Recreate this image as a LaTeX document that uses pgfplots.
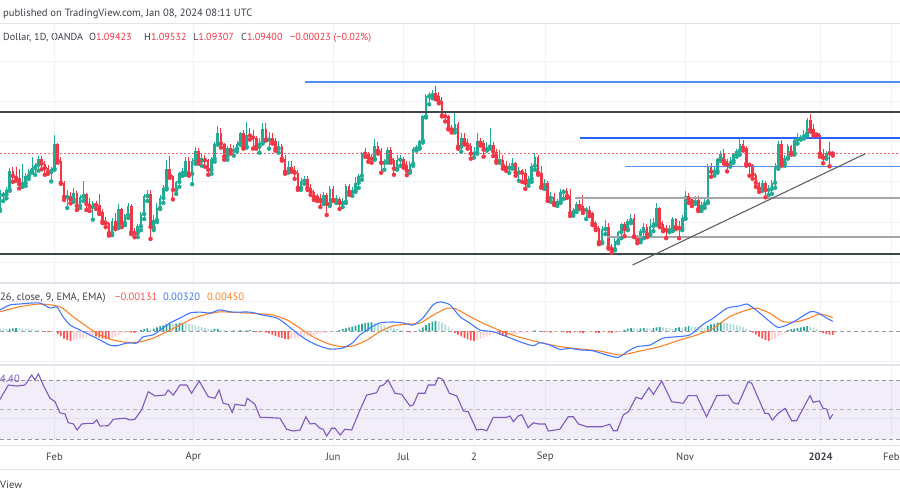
\documentclass[border=0pt]{standalone}
\usepackage{fontspec}
\setmainfont{PT Sans}
\usepackage{pgfplots}
\usepackage{pgfplotstable}
\pgfplotsset{compat=1.18}

\definecolor{upc}{RGB}{34,171,148}
\definecolor{dnc}{RGB}{242,54,69}
\definecolor{txtc}{RGB}{60,63,72}
\definecolor{gridc}{RGB}{240,242,247}
\definecolor{sepc}{RGB}{224,227,235}
\definecolor{bluel}{RGB}{41,98,255}
\definecolor{bluet}{RGB}{80,140,245}
\definecolor{blkl}{RGB}{62,72,74}
\definecolor{gryl}{RGB}{165,165,170}
\definecolor{trl}{RGB}{95,95,100}
\definecolor{macdc}{RGB}{66,120,255}
\definecolor{sigc}{RGB}{255,130,40}
\definecolor{hg0}{RGB}{38,166,154}
\definecolor{hg1}{RGB}{178,223,219}
\definecolor{hr0}{RGB}{255,82,82}
\definecolor{hr1}{RGB}{255,205,210}
\definecolor{rsic}{RGB}{126,87,194}
\definecolor{dashc}{RGB}{150,152,160}

% daily candles, index 0 = 9 Jan 2023
\pgfplotstableread{
i o h l c
0 1.0660 1.0760 1.0655 1.0735
1 1.0735 1.0750 1.0705 1.0737
2 1.0737 1.0775 1.0718 1.0761
3 1.0761 1.0868 1.0755 1.0853
4 1.0853 1.0874 1.0800 1.0830
5 1.0830 1.0875 1.0805 1.0820
6 1.0820 1.0865 1.0767 1.0789
7 1.0789 1.0888 1.0775 1.0794
8 1.0794 1.0843 1.0780 1.0830
9 1.0830 1.0862 1.0815 1.0855
10 1.0855 1.0925 1.0845 1.0870
11 1.0870 1.0894 1.0835 1.0885
12 1.0885 1.0930 1.0855 1.0915
13 1.0915 1.0929 1.0862 1.0890
14 1.0890 1.0905 1.0835 1.0868
15 1.0868 1.0885 1.0840 1.0849
16 1.0849 1.0872 1.0802 1.0865
17 1.0865 1.1033 1.0860 1.0990
18 1.0990 1.0995 1.0895 1.0905
19 1.0905 1.0925 1.0790 1.0795
20 1.0795 1.0802 1.0710 1.0725
21 1.0725 1.0760 1.0670 1.0728
22 1.0728 1.0750 1.0693 1.0712
23 1.0712 1.0768 1.0700 1.0745
24 1.0745 1.0755 1.0660 1.0680
25 1.0680 1.0735 1.0670 1.0725
26 1.0725 1.0805 1.0705 1.0740
27 1.0740 1.0745 1.0660 1.0690
28 1.0690 1.0720 1.0655 1.0675
29 1.0675 1.0705 1.0612 1.0695
30 1.0695 1.0705 1.0665 1.0685
31 1.0685 1.0740 1.0640 1.0650
32 1.0650 1.0665 1.0595 1.0605
33 1.0605 1.0625 1.0575 1.0595
34 1.0595 1.0600 1.0533 1.0545
35 1.0545 1.0620 1.0535 1.0605
36 1.0605 1.0645 1.0565 1.0575
37 1.0575 1.0690 1.0570 1.0665
38 1.0665 1.0670 1.0575 1.0595
39 1.0595 1.0640 1.0585 1.0635
40 1.0635 1.0695 1.0620 1.0680
41 1.0680 1.0690 1.0540 1.0550
42 1.0550 1.0570 1.0525 1.0545
43 1.0545 1.0590 1.0525 1.0580
44 1.0580 1.0650 1.0560 1.0640
45 1.0640 1.0740 1.0615 1.0730
46 1.0730 1.0760 1.0705 1.0740
47 1.0740 1.0760 1.0516 1.0575
48 1.0575 1.0635 1.0560 1.0610
49 1.0610 1.0695 1.0600 1.0670
50 1.0670 1.0735 1.0665 1.0720
51 1.0720 1.0785 1.0695 1.0770
52 1.0770 1.0910 1.0762 1.0865
53 1.0865 1.0930 1.0820 1.0830
54 1.0830 1.0835 1.0713 1.0760
55 1.0760 1.0805 1.0740 1.0800
56 1.0800 1.0850 1.0775 1.0845
57 1.0845 1.0870 1.0830 1.0848
58 1.0848 1.0925 1.0835 1.0905
59 1.0905 1.0925 1.0830 1.0840
60 1.0840 1.0920 1.0788 1.0905
61 1.0905 1.0973 1.0890 1.0955
62 1.0955 1.0968 1.0890 1.0905
63 1.0905 1.0940 1.0880 1.0920
64 1.0920 1.0935 1.0875 1.0908
65 1.0908 1.0915 1.0835 1.0860
66 1.0860 1.0925 1.0840 1.0915
67 1.0915 1.0998 1.0900 1.0990
68 1.0990 1.1075 1.0985 1.1045
69 1.1045 1.1068 1.0970 1.0990
70 1.0990 1.0995 1.0910 1.0925
71 1.0925 1.0980 1.0910 1.0970
72 1.0970 1.0990 1.0940 1.0955
73 1.0955 1.0985 1.0930 1.0965
74 1.0965 1.1005 1.0950 1.0990
75 1.0990 1.1048 1.0985 1.1045
76 1.1045 1.1055 1.0965 1.0975
77 1.0975 1.1095 1.0970 1.1035
78 1.1035 1.1065 1.1010 1.1030
79 1.1030 1.1055 1.0965 1.1020
80 1.1020 1.1030 1.0965 1.0975
81 1.0975 1.1020 1.0945 1.0995
82 1.0995 1.1093 1.0990 1.1060
83 1.1060 1.1090 1.1005 1.1010
84 1.1010 1.1050 1.0965 1.1020
85 1.1020 1.1045 1.0990 1.1005
86 1.1005 1.1020 1.0955 1.0965
87 1.0965 1.1005 1.0945 1.0980
88 1.0980 1.0990 1.0905 1.0915
89 1.0915 1.0935 1.0840 1.0850
90 1.0850 1.0905 1.0845 1.0875
91 1.0875 1.0905 1.0850 1.0860
92 1.0860 1.0880 1.0815 1.0845
93 1.0845 1.0860 1.0760 1.0770
94 1.0770 1.0820 1.0760 1.0805
95 1.0805 1.0830 1.0790 1.0815
96 1.0815 1.0830 1.0760 1.0770
97 1.0770 1.0790 1.0735 1.0750
98 1.0750 1.0760 1.0710 1.0725
99 1.0725 1.0740 1.0705 1.0722
100 1.0722 1.0740 1.0675 1.0705
101 1.0705 1.0750 1.0690 1.0735
102 1.0735 1.0745 1.0635 1.0690
103 1.0690 1.0780 1.0680 1.0765
104 1.0765 1.0778 1.0705 1.0710
105 1.0710 1.0735 1.0695 1.0715
106 1.0715 1.0725 1.0665 1.0695
107 1.0695 1.0718 1.0675 1.0700
108 1.0700 1.0790 1.0695 1.0780
109 1.0780 1.0788 1.0735 1.0750
110 1.0750 1.0775 1.0730 1.0755
111 1.0755 1.0823 1.0750 1.0795
112 1.0795 1.0840 1.0770 1.0830
113 1.0830 1.0950 1.0810 1.0945
114 1.0945 1.0970 1.0925 1.0940
115 1.0940 1.0950 1.0900 1.0920
116 1.0920 1.0940 1.0895 1.0915
117 1.0915 1.1012 1.0910 1.0980
118 1.0980 1.1000 1.0940 1.0955
119 1.0955 1.0970 1.0845 1.0895
120 1.0895 1.0915 1.0860 1.0905
121 1.0905 1.0975 1.0895 1.0960
122 1.0960 1.0975 1.0895 1.0910
123 1.0910 1.0920 1.0835 1.0865
124 1.0865 1.0935 1.0860 1.0910
125 1.0910 1.0935 1.0880 1.0912
126 1.0912 1.0925 1.0870 1.0885
127 1.0885 1.0905 1.0833 1.0855
128 1.0855 1.0905 1.0845 1.0890
129 1.0890 1.0975 1.0880 1.0965
130 1.0965 1.0985 1.0955 1.0970
131 1.0970 1.1010 1.0965 1.1005
132 1.1005 1.1130 1.0995 1.1125
133 1.1125 1.1235 1.1120 1.1225
134 1.1225 1.1245 1.1185 1.1230
135 1.1230 1.1255 1.1215 1.1240
136 1.1240 1.1276 1.1210 1.1225
137 1.1225 1.1245 1.1190 1.1200
138 1.1200 1.1220 1.1125 1.1130
139 1.1130 1.1145 1.1100 1.1125
140 1.1125 1.1130 1.1060 1.1065
141 1.1065 1.1080 1.1045 1.1060
142 1.1060 1.1149 1.1045 1.1085
143 1.1085 1.1095 1.0965 1.0975
144 1.0975 1.1045 1.0950 1.1020
145 1.1020 1.1045 1.0985 1.0995
146 1.0995 1.1015 1.0965 1.0980
147 1.0980 1.0995 1.0915 1.0940
148 1.0940 1.0975 1.0920 1.0945
149 1.0945 1.1042 1.0940 1.1005
150 1.1005 1.1020 1.0980 1.0995
151 1.0995 1.1010 1.0925 1.0960
152 1.0960 1.1000 1.0955 1.0975
153 1.0975 1.1065 1.0965 1.0985
154 1.0985 1.1000 1.0928 1.0950
155 1.0950 1.0965 1.0895 1.0905
156 1.0905 1.0960 1.0895 1.0908
157 1.0908 1.0935 1.0865 1.0880
158 1.0880 1.0905 1.0855 1.0870
159 1.0870 1.0895 1.0845 1.0872
160 1.0872 1.0920 1.0865 1.0895
161 1.0895 1.0900 1.0830 1.0845
162 1.0845 1.0875 1.0805 1.0860
163 1.0860 1.0865 1.0800 1.0845
164 1.0845 1.0865 1.0765 1.0795
165 1.0795 1.0830 1.0780 1.0815
166 1.0815 1.0895 1.0800 1.0880
167 1.0880 1.0945 1.0860 1.0925
168 1.0925 1.0935 1.0835 1.0845
169 1.0845 1.0880 1.0770 1.0775
170 1.0775 1.0815 1.0765 1.0795
171 1.0795 1.0805 1.0705 1.0720
172 1.0720 1.0750 1.0700 1.0725
173 1.0725 1.0745 1.0685 1.0695
174 1.0695 1.0715 1.0680 1.0700
175 1.0700 1.0765 1.0695 1.0750
176 1.0750 1.0765 1.0715 1.0755
177 1.0755 1.0770 1.0720 1.0730
178 1.0730 1.0765 1.0630 1.0645
179 1.0645 1.0670 1.0632 1.0660
180 1.0660 1.0700 1.0650 1.0690
181 1.0690 1.0710 1.0665 1.0680
182 1.0680 1.0735 1.0645 1.0660
183 1.0660 1.0675 1.0615 1.0662
184 1.0662 1.0680 1.0630 1.0645
185 1.0645 1.0650 1.0585 1.0595
186 1.0595 1.0605 1.0560 1.0570
187 1.0570 1.0580 1.0490 1.0500
188 1.0500 1.0580 1.0495 1.0565
189 1.0565 1.0610 1.0540 1.0575
190 1.0575 1.0595 1.0468 1.0475
191 1.0475 1.0490 1.0448 1.0465
192 1.0465 1.0525 1.0460 1.0505
193 1.0505 1.0555 1.0495 1.0550
194 1.0550 1.0595 1.0520 1.0590
195 1.0590 1.0600 1.0530 1.0565
196 1.0565 1.0615 1.0560 1.0605
197 1.0605 1.0640 1.0595 1.0620
198 1.0620 1.0640 1.0525 1.0530
199 1.0530 1.0535 1.0495 1.0510
200 1.0510 1.0565 1.0500 1.0555
201 1.0555 1.0595 1.0520 1.0575
202 1.0575 1.0590 1.0525 1.0540
203 1.0540 1.0615 1.0535 1.0580
204 1.0580 1.0620 1.0555 1.0595
205 1.0595 1.0695 1.0585 1.0670
206 1.0670 1.0675 1.0575 1.0590
207 1.0590 1.0605 1.0555 1.0565
208 1.0565 1.0585 1.0520 1.0560
209 1.0560 1.0585 1.0550 1.0563
210 1.0563 1.0625 1.0555 1.0615
211 1.0615 1.0620 1.0565 1.0575
212 1.0575 1.0605 1.0520 1.0570
213 1.0570 1.0635 1.0560 1.0620
214 1.0620 1.0756 1.0615 1.0730
215 1.0730 1.0745 1.0695 1.0715
216 1.0715 1.0725 1.0680 1.0700
217 1.0700 1.0730 1.0690 1.0710
218 1.0710 1.0730 1.0655 1.0665
219 1.0665 1.0700 1.0655 1.0685
220 1.0685 1.0715 1.0670 1.0700
221 1.0700 1.0888 1.0695 1.0880
222 1.0880 1.0895 1.0825 1.0850
223 1.0850 1.0875 1.0830 1.0855
224 1.0855 1.0920 1.0845 1.0915
225 1.0915 1.0955 1.0905 1.0940
226 1.0940 1.0965 1.0890 1.0905
227 1.0905 1.0915 1.0852 1.0885
228 1.0885 1.0925 1.0875 1.0905
229 1.0905 1.0945 1.0895 1.0940
230 1.0940 1.0965 1.0925 1.0955
231 1.0955 1.1017 1.0935 1.0990
232 1.0990 1.1010 1.0955 1.0970
233 1.0970 1.0980 1.0880 1.0890
234 1.0890 1.0895 1.0830 1.0885
235 1.0885 1.0890 1.0815 1.0835
236 1.0835 1.0845 1.0775 1.0795
237 1.0795 1.0800 1.0750 1.0765
238 1.0765 1.0810 1.0755 1.0795
239 1.0795 1.0805 1.0723 1.0760
240 1.0760 1.0785 1.0735 1.0765
241 1.0765 1.0810 1.0740 1.0795
242 1.0795 1.0895 1.0770 1.0875
243 1.0875 1.1005 1.0865 1.0990
244 1.0990 1.1010 1.0880 1.0895
245 1.0895 1.0935 1.0880 1.0920
246 1.0920 1.0990 1.0915 1.0980
247 1.0980 1.0985 1.0935 1.0945
248 1.0945 1.1015 1.0935 1.1010
249 1.1010 1.1045 1.0990 1.1015
250 1.1015 1.1035 1.1010 1.1025
251 1.1025 1.1058 1.1015 1.1040
252 1.1040 1.1115 1.1030 1.1105
253 1.1105 1.1139 1.1050 1.1060
254 1.1060 1.1085 1.1030 1.1040
255 1.1040 1.1045 1.1030 1.1035
256 1.1035 1.1045 1.0925 1.0940
257 1.0940 1.0965 1.0892 1.0920
258 1.0920 1.0955 1.0915 1.0945
259 1.0945 1.1000 1.0877 1.0942
260 1.09423 1.09532 1.09307 1.09400
}\candles

% MACD histogram in thousandths; k: 0 rising green, 1 falling green, 2 falling red, 3 rising red
\pgfplotstableread{
i v k
0 0.8 1
1 0.7 1
2 0.6 1
3 0.8 0
4 0.9 0
5 1.0 0
6 0.9 1
7 0.8 1
8 0.7 1
9 0.6 1
10 0.55 1
11 0.5 1
12 0.4 1
13 0.3 1
14 -0.2 2
15 -0.3 2
16 -0.2 3
17 -0.1 3
18 -1.0 2
19 -1.8 2
20 -2.5 2
21 -3.0 2
22 -3.3 2
23 -3.1 3
24 -2.8 3
25 -2.5 3
26 -2.2 3
27 -2.0 3
28 -1.8 3
29 -1.5 3
30 -1.8 2
31 -2.2 2
32 -2.5 2
33 -2.7 2
34 -2.8 2
35 -2.3 3
36 -1.8 3
37 -1.3 3
38 -0.9 3
39 -0.6 3
40 -0.4 3
41 -0.5 2
42 -0.6 2
43 -0.2 3
44 0.3 0
45 0.6 0
46 0.9 0
47 0.5 1
48 0.8 0
49 1.2 0
50 1.6 0
51 1.9 0
52 2.3 0
53 2.5 0
54 2.4 1
55 2.5 0
56 2.6 0
57 2.7 0
58 2.6 1
59 2.3 1
60 2.2 1
61 1.9 1
62 1.6 1
63 1.3 1
64 1.0 1
65 0.8 1
66 0.6 1
67 0.7 0
68 0.8 0
69 0.5 1
70 0.2 1
71 -0.1 2
72 0.1 0
73 0.2 0
74 0.1 1
75 0.3 0
76 -0.2 2
77 0.2 0
78 0.3 0
79 0.2 1
80 -0.3 2
81 -0.4 2
82 -0.2 3
83 -0.5 2
84 -0.8 2
85 -1.2 2
86 -1.6 2
87 -2.0 2
88 -2.3 2
89 -2.6 2
90 -2.8 2
91 -2.7 3
92 -2.5 3
93 -2.3 3
94 -2.1 3
95 -1.9 3
96 -1.7 3
97 -1.5 3
98 -1.3 3
99 -1.1 3
100 -0.9 3
101 -0.8 3
102 -0.6 3
103 -0.4 3
104 -0.3 3
105 -0.1 3
106 0.3 0
107 0.6 0
108 0.9 0
109 1.2 0
110 1.5 0
111 1.8 0
112 2.1 0
113 2.4 0
114 2.6 0
115 2.8 0
116 2.9 0
117 2.7 1
118 2.4 1
119 2.1 1
120 1.8 1
121 1.5 1
122 1.2 1
123 0.9 1
124 0.6 1
125 0.4 1
126 0.2 1
127 -0.2 2
128 -0.4 2
129 -0.3 3
130 -0.1 3
131 0.5 0
132 1.2 0
133 2.0 0
134 2.6 0
135 3.1 0
136 3.4 0
137 3.2 1
138 2.8 1
139 2.2 1
140 1.5 1
141 0.7 1
142 -0.6 2
143 -1.2 2
144 -1.8 2
145 -2.4 2
146 -2.8 2
147 -3.1 2
148 -3.3 2
149 -3.0 3
150 -2.6 3
151 -2.2 3
152 -1.8 3
153 -1.4 3
154 -1.0 3
155 -0.8 3
156 -1.2 2
157 -1.6 2
158 -1.8 2
159 -1.5 3
160 -1.2 3
161 -1.0 3
162 -0.8 3
163 -0.6 3
164 -0.5 3
165 -0.4 3
166 -0.3 3
167 0.2 0
168 0.1 1
169 -0.2 2
170 -0.4 2
171 -0.3 3
172 -0.5 2
173 -0.4 3
174 -0.3 3
175 -0.2 3
176 -0.3 2
177 -0.5 2
178 -0.7 2
179 -0.6 3
180 -0.4 3
181 -0.5 2
182 -0.7 2
183 -0.5 3
184 -0.4 3
185 -0.3 3
186 -0.5 2
187 -0.6 2
188 -0.4 3
189 -0.3 3
190 -0.5 2
191 -0.7 2
192 -0.6 3
193 -0.4 3
194 -0.2 3
195 0.4 0
196 0.8 0
197 1.0 0
198 0.9 1
199 0.8 1
200 0.9 0
201 1.0 0
202 0.9 1
203 0.8 1
204 1.0 0
205 1.2 0
206 1.3 0
207 1.1 1
208 1.0 1
209 0.9 1
210 0.8 1
211 1.0 0
212 1.2 0
213 1.1 1
214 1.4 0
215 1.6 0
216 1.5 1
217 1.4 1
218 1.3 1
219 1.2 1
220 1.1 1
221 1.8 0
222 2.2 0
223 2.5 0
224 2.8 0
225 3.0 0
226 2.8 1
227 2.6 1
228 2.4 1
229 2.2 1
230 2.0 1
231 1.7 1
232 1.3 1
233 0.8 1
234 0.3 1
235 -0.5 2
236 -1.2 2
237 -1.9 2
238 -2.5 2
239 -3.0 2
240 -3.3 2
241 -3.0 3
242 -2.5 3
243 -1.9 3
244 -1.3 3
245 -0.6 3
246 0.3 0
247 0.6 0
248 0.8 0
249 1.0 0
250 1.2 0
251 1.4 0
252 1.6 0
253 1.4 1
254 1.1 1
255 0.6 1
256 -0.3 2
257 -0.7 2
258 -1.0 2
259 -1.2 2
260 -1.31 2
}\hist

\pgfplotstableread{
i m
0 7.0
3.1 8.7
6.2 9.0
9.4 9.3
12.5 9.3
15.6 7.7
17.8 8.0
19.7 4.7
21.9 2.0
25 0.3
28.1 -1.3
31.2 -3.0
34.3 -4.7
36.5 -4.9
39.7 -4.0
42.8 -4.0
44.6 -2.0
47.8 -1.3
50 0.3
53.1 2.7
56.2 4.3
59.3 6.0
62.4 6.3
65.6 6.0
68.7 7.0
72.7 6.3
78 6.3
82.1 5.3
86.5 4.3
89.6 2.0
92.7 -0.7
95.8 -3.0
99 -4.7
103 -6.0
107 -5.7
110 -4.0
112.4 -1.3
115.5 1.0
118.6 2.7
122.7 3.0
125.8 2.7
129 2.0
132 4.3
135.2 8.7
137.4 9.7
140.5 8.7
143.6 4.8
146.7 2.6
149.9 0.3
153.9 -0.2
158.3 -1.9
162.3 -3.6
166.4 -4.9
168.6 -3.9
171.7 -4.7
174.8 -6.1
178 -5.8
181.1 -6.3
185.1 -6.6
189.5 -8.0
193 -8.8
195.8 -6.9
198.9 -5.2
202.9 -4.7
207 -2.4
211.4 -1.9
215.4 -1.3
219.5 2.2
222.6 4.2
227 7.6
231 8.4
233.5 8.9
237.3 5.9
240.4 3.1
242.9 1.2
245.7 2.0
248.8 3.7
252.9 6.4
255.1 6.2
257 5.0
260 3.2
}\macd

\pgfplotstableread{
i s
0 6.4
6.2 8.1
12.5 9.0
18.7 8.1
22.8 4.8
27.2 1.4
31.2 -1.3
35.3 -3.0
39.7 -3.8
43.7 -3.6
47.8 -2.4
52.1 -0.2
56.2 2.0
60.3 4.2
64.6 5.6
68.7 6.4
72.7 6.2
79 5.9
85.2 5.3
89.6 3.7
93.7 0.9
97.7 -1.9
102.1 -4.1
106.2 -5.2
110.2 -5.0
114.6 -3.0
118.6 -0.2
122.7 1.7
127 2.3
131.1 2.6
135.2 5.3
139.6 7.6
142.7 7.2
146.7 4.8
152 2.0
157 -0.2
162.3 -2.1
168.6 -3.8
174.8 -5.2
181.1 -6.0
187.3 -6.7
193.6 -8.0
198.9 -6.9
206 -5.2
212.3 -3.0
217.6 -1.3
222.6 0.9
227.9 4.8
233.2 7.0
236.3 7.6
240.4 5.9
244.5 3.1
248.8 3.1
252.9 4.4
256 5.7
260 4.5
}\signal

\pgfplotstableread{
i r
0 56.9
2.6 66.6
5.2 65.9
7.8 66.6
9.9 73.4
10.9 70.0
12 74.1
13.5 66.6
15.6 57.6
17.2 55.3
18.7 47.8
20.3 46.9
21.3 41.1
22.9 40.2
24.1 36.1
25.5 40.2
27.6 40.6
29.1 40.6
30.2 42.9
31.2 38.8
33.8 39.0
35.4 43.4
39 44.1
40.6 42.9
42.1 43.4
44.2 49.7
46.3 62.1
48.4 59.2
51.5 59.8
52.5 63.2
54.1 59.8
56.2 66.6
58.3 66.6
59.8 61.0
62.2 69.3
65 58.7
67.1 57.6
68.4 63.2
69.7 54.2
71.3 53.5
72.5 48.1
73.4 53.5
76.5 52.6
77.2 57.6
79.6 53.5
81.2 44.7
82.7 44.7
87.4 44.1
89.5 36.6
91.6 35.4
93.7 36.1
95.5 45.1
96.8 40.2
98.3 40.6
99.9 37.3
100.9 36.6
102 32.0
103.6 37.3
104.6 37.3
106.2 32.7
107.7 36.6
109.8 36.1
112.4 49.7
114.5 59.8
117.6 61.4
118.6 65.9
119.7 66.6
121.2 70.0
123.3 61.0
125.4 60.3
128 52.4
129 53.1
130.6 61.0
132.7 61.0
133.7 66.6
135.8 66.6
136.8 71.6
138.2 70.5
140.3 61.0
142.6 59.2
144.7 49.0
146.2 48.5
148.8 36.1
150.4 36.6
152 35.6
154 44.7
158.2 44.7
159.2 45.6
160.3 41.7
161.8 45.6
162.9 46.5
164.9 37.7
166.5 41.0
168.1 40.2
170.2 40.2
171.2 35.4
174.8 36.6
177.4 45.1
179 45.1
180.6 40.2
183.2 38.3
187.9 38.3
190.4 40.0
191.5 35.6
192.7 35.6
194.6 46.3
196.2 48.5
198.6 58.3
200.3 57.1
202.6 64.8
204 60.3
206.6 69.3
209.7 55.3
213.3 54.2
214.9 59.4
217.5 59.4
220.6 45.1
223.8 59.4
227.4 59.8
228.9 54.6
230.5 53.7
233.6 68.8
234.7 67.8
238.8 47.4
239.9 47.4
241.1 42.9
243 47.4
245.1 50.8
247.2 42.4
248.7 42.4
252.9 59.4
253.9 54.9
255.8 55.8
257 50.8
258.1 50.3
259.1 43.6
260 46.7
}\rsi

\newcommand{\tv}{\fontsize{10.6bp}{12bp}\selectfont}
\newcommand{\tvs}{\fontsize{10.2bp}{12bp}\selectfont}

\pgfplotsset{
  panel/.style={
    scale only axis, width=900bp, xmin=0, xmax=281,
    axis line style={draw=none}, major tick length=0pt,
    xtick={17,60.4,104,126,148,170.2,213.9,256.2,278.3},
    xmajorgrids, ymajorgrids,
    grid style={draw=gridc, line width=0.9bp},
    xticklabels={}, yticklabels={},
  },
  wick/.style={color=#1, only marks, mark=none,
    error bars/y dir=plus, error bars/y explicit,
    error bars/error mark=none,
    error bars/error mark options={draw=none, fill=none},
    error bars/error bar style={draw=#1, line width=1bp}},
  body/.style={color=#1, only marks, mark=none,
    error bars/y dir=plus, error bars/y explicit,
    error bars/error mark=none,
    error bars/error mark options={draw=none, fill=none},
    error bars/error bar style={draw=#1, line width=2.6bp}},
}

\begin{document}
\begin{tikzpicture}
\useasboundingbox (0,0) rectangle (900bp,-500bp);

% header
\node[anchor=base west, inner sep=0, text=txtc, font=\tv] at (3bp,-16.5bp)
  {published on TradingView.com, Jan 08, 2024 08:11 UTC};
\node[anchor=base west, inner sep=0, text=txtc, font=\tvs] at (3bp,-40bp) {Dollar, 1D, OANDA};
\node[anchor=base west, inner sep=0, text=txtc, font=\tvs] at (89bp,-40bp) {O\textcolor{dnc}{1.09423}};
\node[anchor=base west, inner sep=0, text=txtc, font=\tvs] at (144bp,-40bp) {H\textcolor{dnc}{1.09532}};
\node[anchor=base west, inner sep=0, text=txtc, font=\tvs] at (193bp,-40bp) {L\textcolor{dnc}{1.09307}};
\node[anchor=base west, inner sep=0, text=txtc, font=\tvs] at (241bp,-40bp) {C\textcolor{dnc}{1.09400}};
\node[anchor=base west, inner sep=0, text=dnc, font=\tvs] at (290bp,-40bp) {−0.00023 (−0.02\%)};

% price panel
\begin{axis}[panel, at={(0,-23bp)}, anchor=north west, height=260bp,
  ymin=1.02974, ymax=1.15890, ytick={1.04,1.06,1.08,1.10,1.12,1.14}]
\addplot[restrict expr to domain={\thisrow{c}-\thisrow{o}}{0:1}, wick=upc]
  table[x=i, y=l, y error expr={\thisrow{h}-\thisrow{l}}] {\candles};
\addplot[restrict expr to domain={\thisrow{c}-\thisrow{o}}{-1:-0.00000001}, wick=dnc]
  table[x=i, y=l, y error expr={\thisrow{h}-\thisrow{l}}] {\candles};
\addplot[restrict expr to domain={\thisrow{c}-\thisrow{o}}{0:1}, body=upc]
  table[x=i, y expr={min(\thisrow{o},\thisrow{c})}, y error expr={abs(\thisrow{c}-\thisrow{o})}] {\candles};
\addplot[restrict expr to domain={\thisrow{c}-\thisrow{o}}{-1:-0.00000001}, body=dnc]
  table[x=i, y expr={min(\thisrow{o},\thisrow{c})}, y error expr={abs(\thisrow{c}-\thisrow{o})}] {\candles};
% drawn levels
\addplot[color=bluet, line width=1.1bp] coordinates {(95.2,1.1296) (281,1.1296)};
\addplot[color=blkl, line width=2bp] coordinates {(0,1.11493) (281,1.11493)};
\addplot[color=bluel, line width=2bp] coordinates {(181,1.10157) (281,1.10157)};
\addplot[color=dnc!80, line width=1.1bp, dash pattern=on 2bp off 2bp] coordinates {(0,1.0940) (281,1.0940)};
\addplot[color=bluet, line width=1.1bp] coordinates {(195.1,1.08751) (281,1.08751)};
\addplot[color=gryl, line width=2bp] coordinates {(179.5,1.07211) (281,1.07211)};
\addplot[color=gryl, line width=2bp] coordinates {(189.5,1.05274) (281,1.05274)};
\addplot[color=blkl, line width=2bp] coordinates {(0,1.04429) (281,1.04429)};
\addplot[color=trl, line width=1.1bp] coordinates {(197.5,1.03868) (270,1.09382)};
\end{axis}

% MACD panel
\begin{axis}[panel, at={(0,-283bp)}, anchor=north west, height=82bp,
  ymin=-11.333, ymax=16, ytick={-10,10}]
\addplot[color=dashc, line width=0.8bp, dash pattern=on 4bp off 3bp] coordinates {(0,0) (281,0)};
\addplot[ybar, bar width=1.7bp, bar shift=0pt, draw=none, fill=hg0,
  restrict expr to domain={\thisrow{k}}{-0.5:0.5}] table[x=i, y=v] {\hist};
\addplot[ybar, bar width=1.7bp, bar shift=0pt, draw=none, fill=hg1,
  restrict expr to domain={\thisrow{k}}{0.5:1.5}] table[x=i, y=v] {\hist};
\addplot[ybar, bar width=1.7bp, bar shift=0pt, draw=none, fill=hr0,
  restrict expr to domain={\thisrow{k}}{1.5:2.5}] table[x=i, y=v] {\hist};
\addplot[ybar, bar width=1.7bp, bar shift=0pt, draw=none, fill=hr1,
  restrict expr to domain={\thisrow{k}}{2.5:3.5}] table[x=i, y=v] {\hist};
\addplot[color=sigc, line width=1.1bp, smooth, tension=0.4] table[x=i, y=s] {\signal};
\addplot[color=macdc, line width=1.1bp, smooth, tension=0.4] table[x=i, y=m] {\macd};
\end{axis}

% RSI panel
\begin{axis}[panel, at={(0,-365bp)}, anchor=north west, height=80bp,
  ymin=25.93, ymax=80.17, ytick={44.2},
  xticklabels={Feb,Apr,Jun,Jul,2,Sep,Nov,\textbf{2024},Feb},
  xticklabel style={font=\tv, text=txtc, anchor=center, yshift=-12bp}]
\addplot[fill=rsic, fill opacity=0.1, draw=none] coordinates {(0,30) (281,30) (281,70) (0,70)} -- cycle;
\addplot[color=dashc, line width=1bp, dash pattern=on 4bp off 3bp] coordinates {(0,70) (281,70)};
\addplot[color=dashc!70, line width=0.8bp, dash pattern=on 4bp off 3bp] coordinates {(0,50) (281,50)};
\addplot[color=dashc, line width=1bp, dash pattern=on 4bp off 3bp] coordinates {(0,30) (281,30)};
\addplot[color=rsic, line width=1.1bp] table[x=i, y=r] {\rsi};
\end{axis}

% separators
\draw[sepc, line width=1bp] (0,-23bp) -- (900bp,-23bp);
\draw[sepc, line width=1.5bp] (0,-283bp) -- (900bp,-283bp);
\draw[sepc, line width=1.5bp] (0,-365bp) -- (900bp,-365bp);
\draw[sepc, line width=1bp] (0,-445bp) -- (900bp,-445bp);
\draw[sepc, line width=1bp] (0,-469bp) -- (900bp,-469bp);

% panel labels
\node[anchor=base west, inner sep=0, text=txtc, font=\tv] at (0bp,-300bp) {26, close, 9, EMA, EMA)};
\node[anchor=base west, inner sep=0, text=hr0, font=\tv] at (115bp,-300bp) {−0.00131};
\node[anchor=base west, inner sep=0, text=macdc, font=\tv] at (163bp,-300bp) {0.00320};
\node[anchor=base west, inner sep=0, text=sigc, font=\tv] at (207bp,-300bp) {0.00450};
\node[anchor=base west, inner sep=0, text=rsic, font=\tv] at (0bp,-382bp) {4.40};
\node[anchor=base west, inner sep=0, text=txtc, font=\tv] at (0bp,-488bp) {View};
\end{tikzpicture}
\end{document}
